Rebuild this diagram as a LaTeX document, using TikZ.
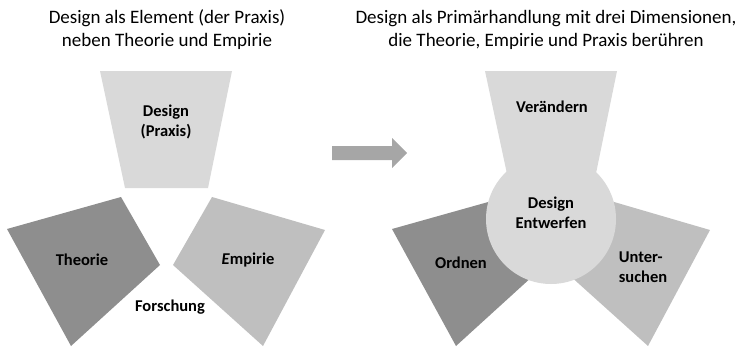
\documentclass[tikz,border=0pt]{standalone}
\usepackage{fontspec}
\setmainfont{Carlito}
\usetikzlibrary{positioning}

\definecolor{praxisgray}{HTML}{D9D9D9}
\definecolor{theoriegray}{HTML}{8E8E8E}
\definecolor{empiriegray}{HTML}{BFBFBF}
\definecolor{arrowgray}{HTML}{A6A6A6}

\tikzset{
  heading/.style={align=center, font=\fontsize{19}{23}\selectfont},
  dimtext/.style={align=center, font=\fontsize{16.5}{19.5}\selectfont\bfseries},
}

\begin{document}
\begin{tikzpicture}[x=1pt,y=-1pt]
  \useasboundingbox (0,0) rectangle (741,348);
  % headings
  \node[heading] (lefthead) at (167,30) {Design als Element (der Praxis)\\neben Theorie und Empirie};
  \node[heading] (righthead) at (546,30) {Design als Primärhandlung mit drei Dimensionen,\\die Theorie, Empirie und Praxis berühren};
  % left: three separate fields
  \fill[praxisgray] (100,71) -- (232,71) -- (208,188) -- (125,188) -- cycle;
  \fill[theoriegray] (7,229) -- (121,197) -- (160,265) -- (71,346) -- cycle;
  \fill[empiriegray] (212,197) -- (325,230) -- (263,346) -- (173,265) -- cycle;
  \node[dimtext] (praxis) at (166,122) {Design\\(Praxis)};
  \node[dimtext] (theorie) at (82,260) {Theorie};
  \node[dimtext] (empirie) at (248,260) {\textit{E}mpirie};
  \node[dimtext] (forschung) at (170,307) {Forschung};
  % arrow
  \fill[arrowgray] (332,146) -- (392,146) -- (392,138) -- (407,153)
    -- (392,168) -- (392,160) -- (332,160) -- cycle;
  % right: same fields, joined by the circle
  \begin{scope}[xshift=385pt]
    \fill[praxisgray] (100,71) -- (232,71) -- (208,188) -- (125,188) -- cycle;
    \fill[theoriegray] (7,229) -- (121,197) -- (160,265) -- (71,346) -- cycle;
    \fill[empiriegray] (212,197) -- (325,230) -- (263,346) -- (173,265) -- cycle;
  \end{scope}
  \node[circle, fill=praxisgray, minimum size=130pt, inner sep=0pt] (kern) at (551,219) {};
  \node[dimtext] (veraendern) at (552,107) {Verändern};
  \node[dimtext] (entwerfen) at (551,213) {Design\\Entwerfen};
  \node[dimtext] (ordnen) at (461,263) {Ordnen};
  \node[dimtext, align=left] (untersuchen) at (643,267) {Unter-\\suchen};
\end{tikzpicture}
\end{document}
